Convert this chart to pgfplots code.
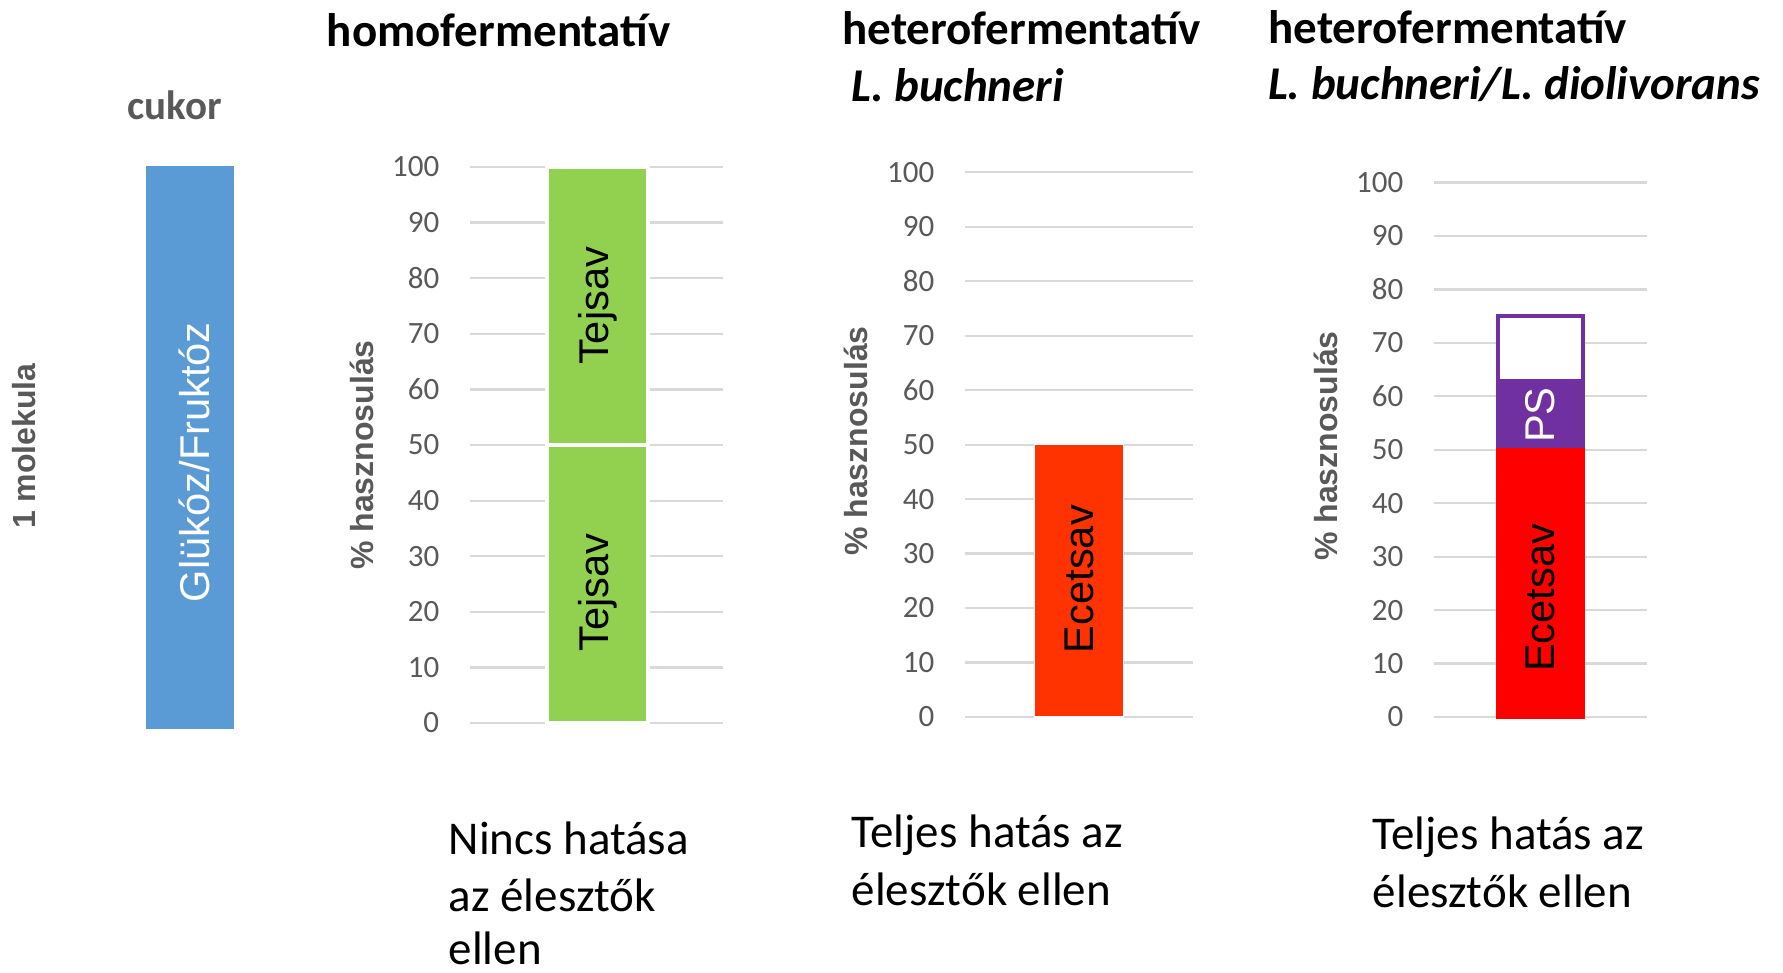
\documentclass[border=0pt]{standalone}
\usepackage{pgfplots}
\pgfplotsset{compat=1.18}
\usepackage{fontspec}
\setmainfont{Carlito}
\newfontfamily\arial{Liberation Sans}

\definecolor{tickc}{HTML}{595959}
\definecolor{gridc}{HTML}{D9D9D9}
\definecolor{lgreen}{HTML}{92D050}
\definecolor{orred}{HTML}{FF3300}
\definecolor{xred}{HTML}{FF0000}
\definecolor{xpurple}{HTML}{7030A0}
\definecolor{xblue}{HTML}{5B9BD5}

% 1 px of the reference = 0.25pt
\pgfplotsset{
  chart/.style={
    scale only axis, anchor=south west, clip=false,
    ymin=0, ymax=100, ytick={0,10,...,100},
    axis line style={draw=none}, major tick length=0pt,
    xtick=\empty,
    ymajorgrids, grid style={draw=gridc, line width=0.55pt},
    yticklabel style={font=\fontsize{7.75}{9}\selectfont, text=tickc, inner sep=0pt, xshift=-7.5pt},
    /pgf/number format/assume math mode=true,
    ybar stacked, bar shift=0pt,
  },
}
\tikzset{
  barlabel/.style={rotate=90, font=\arial\fontsize{10.4}{12}\selectfont, inner sep=0pt},
  ylab/.style={rotate=90, font=\arial\bfseries\fontsize{8}{10}\selectfont, text=tickc, inner sep=0pt},
}

\begin{document}
\begin{tikzpicture}
\path[use as bounding box] (0,0) rectangle (445.75pt,-243pt);

% titles
\begin{scope}[every node/.style={anchor=base west, inner sep=0pt, font=\bfseries\fontsize{11.75}{14}\selectfont}]
\node at (81.5pt,-11.75pt) {homofermentatív};
\node at (210.4pt,-11.25pt) {heterofermentatív};
\node at (212.6pt,-25.4pt) {\itshape L. buchneri};
\node at (316.9pt,-10.8pt) {heterofermentatív};
\node at (316.8pt,-25pt) {\itshape L. buchneri/L. diolivorans};
\end{scope}
\node[anchor=base west, inner sep=0pt, text=tickc, font=\bfseries\fontsize{10.25}{12}\selectfont] at (31.75pt,-29.8pt) {cukor};

% left labels
\node[ylab] at (6pt,-111.5pt) {1 molekula};
\node[ylab] at (90.5pt,-113.75pt) {\% hasznosulás};
\node[ylab] at (213.9pt,-110.25pt) {\% hasznosulás};
\node[ylab] at (331.5pt,-111.5pt) {\% hasznosulás};

% sugar bar
\begin{axis}[scale only axis, anchor=south west, at={(36.5pt,-182.25pt)},
  width=21.9pt, height=140.75pt, hide axis, clip=false,
  xmin=0, xmax=1, ymin=0, ymax=100, ybar, bar width=1, bar shift=0pt,
  after end axis/.code={\node[barlabel, text=white] at (axis cs:0.55,47.4) {Glükóz/Fruktóz};}]
\addplot[fill=xblue, draw=none] coordinates {(0.5,100)};
\end{axis}

% homofermentativ
\begin{axis}[chart, at={(117.5pt,-180.75pt)}, width=63.25pt, height=139pt,
  xmin=470, xmax=723, bar width=101,
  after end axis/.code={
    \node[barlabel] at (axis cs:597.5,75) {Tejsav};
    \node[barlabel] at (axis cs:597.5,23.5) {Tejsav};}]
\addplot[fill=lgreen, draw=white, line width=1pt] coordinates {(597.5,50)};
\addplot[fill=lgreen, draw=white, line width=1pt] coordinates {(597.5,50)};
\end{axis}

% heterofermentativ L. buchneri
\begin{axis}[chart, at={(241.25pt,-179.25pt)}, width=57pt, height=136.2pt,
  xmin=965, xmax=1193, bar width=89,
  after end axis/.code={\node[barlabel] at (axis cs:1079,25.3) {Ecetsav};}]
\addplot[fill=orred, draw=white, line width=0.3pt] coordinates {(1079,50)};
\end{axis}

% heterofermentativ L. buchneri/L. diolivorans
\begin{axis}[chart, at={(358.5pt,-179.25pt)}, width=53.25pt, height=133.6pt,
  xmin=1434, xmax=1647, bar width=85.5,
  after end axis/.code={
    \node[barlabel] at (axis cs:1540.5,22.3) {Ecetsav};
    \node[barlabel, text=white] at (axis cs:1540.5,56.5) {PS};}]
\addplot[fill=xred, draw=xred, line width=0.9pt] coordinates {(1540.5,50)};
\addplot[fill=xpurple, draw=xpurple, line width=0.9pt] coordinates {(1540.5,13)};
\addplot[fill=white, draw=xpurple, line width=0.9pt] coordinates {(1540.5,12)};
\end{axis}

% bottom notes
\begin{scope}[every node/.style={anchor=base west, inner sep=0pt, font=\fontsize{11.75}{14}\selectfont}]
\node at (112pt,-213.5pt) {Nincs hatása};
\node at (112pt,-227.75pt) {az élesztők};
\node at (112pt,-241.2pt) {ellen};
\node at (212.75pt,-211.75pt) {Teljes hatás az};
\node at (212.75pt,-226.25pt) {élesztők ellen};
\node at (343pt,-212.25pt) {Teljes hatás az};
\node at (343pt,-226.75pt) {élesztők ellen};
\end{scope}
\end{tikzpicture}
\end{document}
